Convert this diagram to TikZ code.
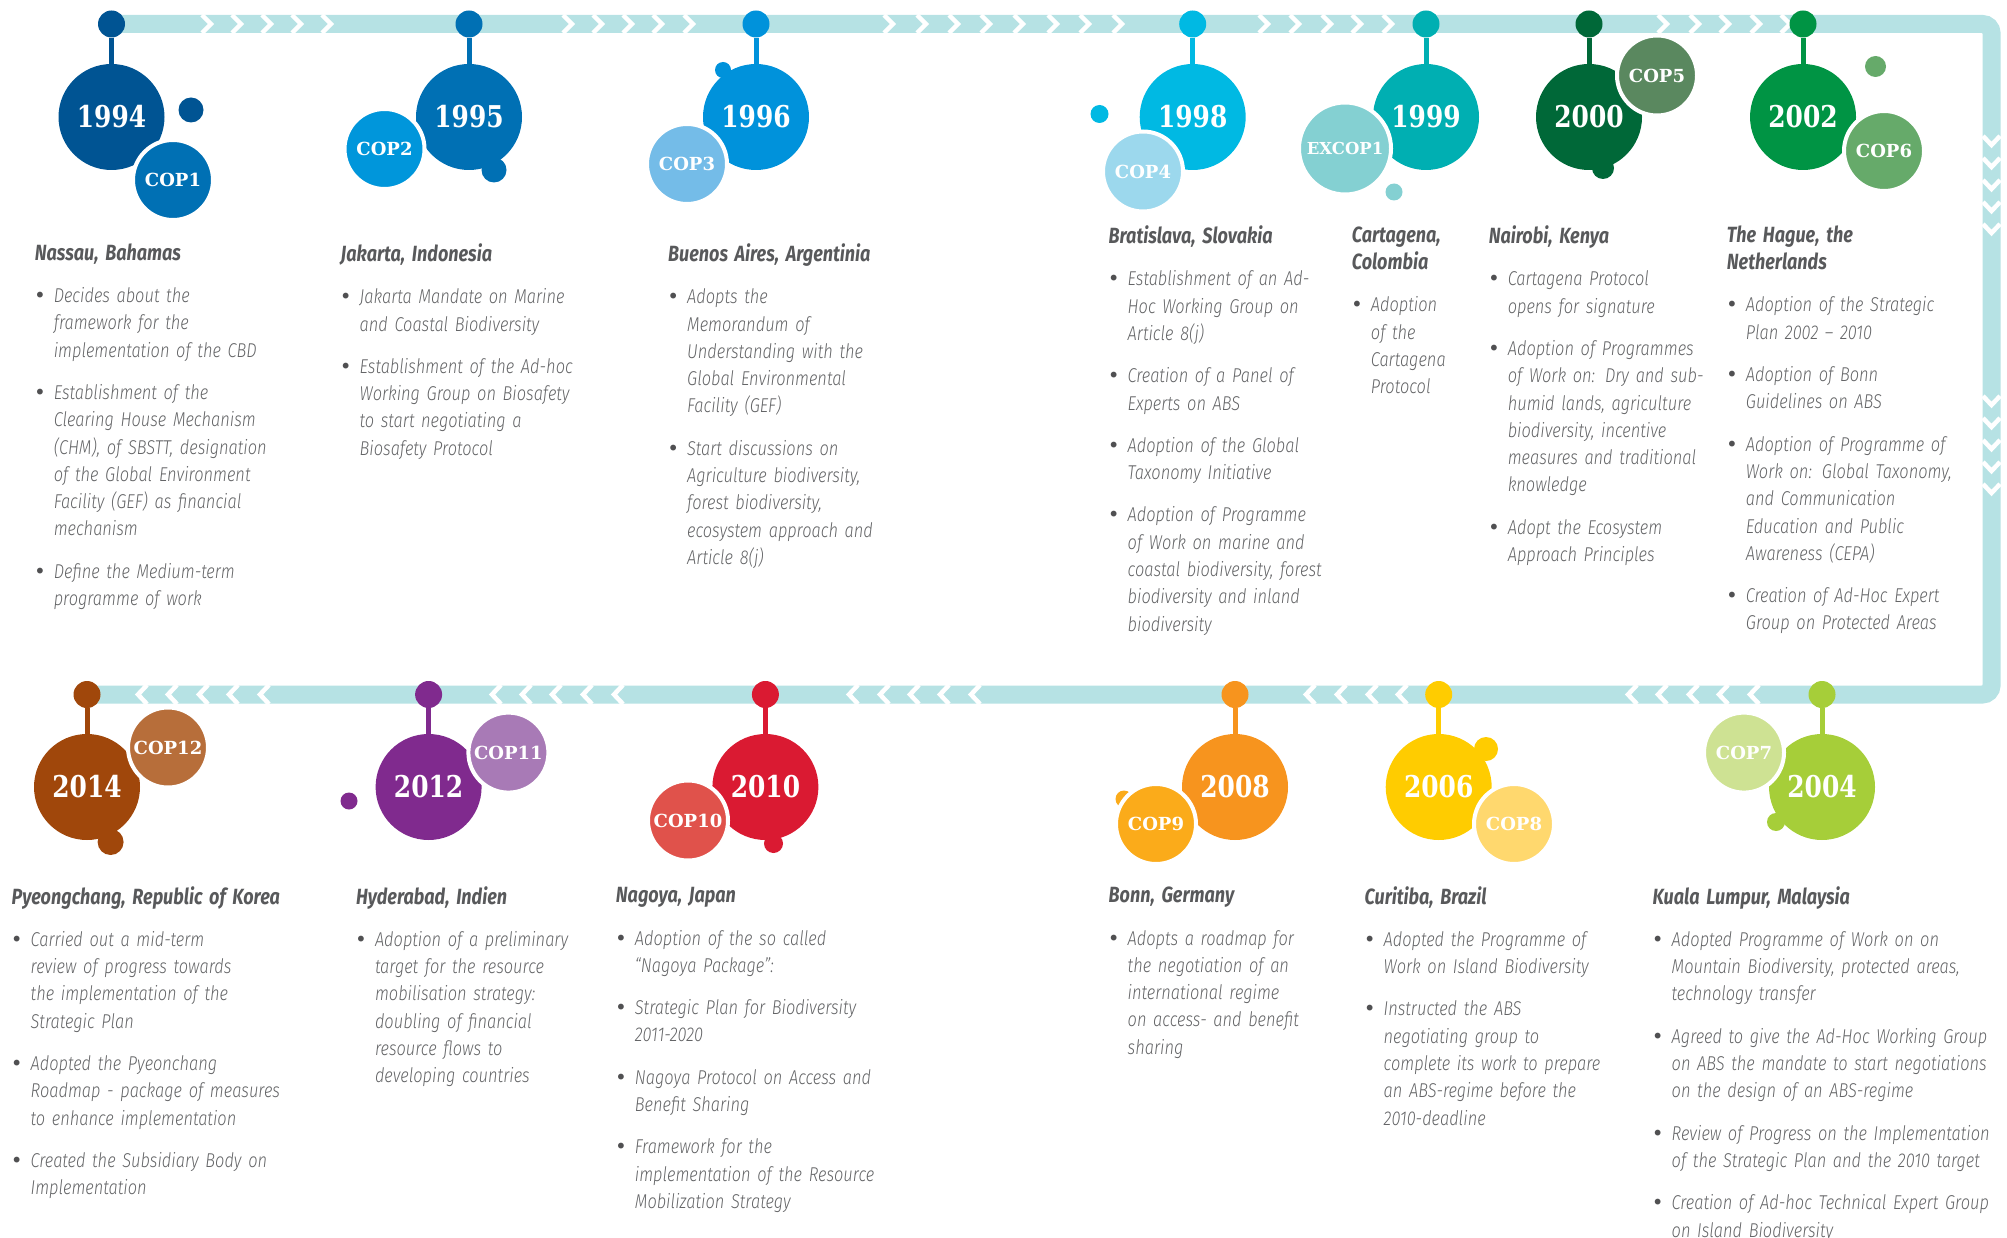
\documentclass[tikz,border=0pt]{standalone}
\usepackage{fontspec}
\newfontfamily\bodyfam{Fira Sans Light}[FakeStretch=0.82]
\newfontfamily\headfam{Fira Sans}[FakeStretch=0.82]
\newfontfamily\yearfam{DejaVu Serif}[FakeStretch=0.83]
\newfontfamily\copfam{DejaVu Serif}
\usetikzlibrary{positioning}

\definecolor{bandc}{RGB}{182,226,228}
\definecolor{headgrey}{RGB}{88,89,91}
\definecolor{bodygrey}{RGB}{100,101,103}
\definecolor{dotgrey}{RGB}{80,80,82}
\definecolor{col94}{RGB}{0,84,147}
\definecolor{colcop1}{RGB}{0,112,180}
\definecolor{col95}{RGB}{0,112,180}
\definecolor{colcop2}{RGB}{0,150,219}
\definecolor{col96}{RGB}{0,146,219}
\definecolor{colcop3}{RGB}{116,188,232}
\definecolor{col98}{RGB}{0,185,227}
\definecolor{colcop4}{RGB}{156,216,237}
\definecolor{col99}{RGB}{0,175,178}
\definecolor{colexcop}{RGB}{132,208,210}
\definecolor{col00}{RGB}{0,104,56}
\definecolor{colcop5}{RGB}{90,136,95}
\definecolor{col02}{RGB}{0,148,68}
\definecolor{colcop6}{RGB}{102,170,106}
\definecolor{col04}{RGB}{166,206,57}
\definecolor{colcop7}{RGB}{206,226,147}
\definecolor{col06}{RGB}{255,204,0}
\definecolor{colcop8}{RGB}{255,216,110}
\definecolor{col08}{RGB}{247,148,30}
\definecolor{colcop9}{RGB}{251,171,26}
\definecolor{col10}{RGB}{218,26,50}
\definecolor{colcop10}{RGB}{224,82,75}
\definecolor{col12}{RGB}{128,42,142}
\definecolor{colcop11}{RGB}{168,122,182}
\definecolor{col14}{RGB}{160,71,11}
\definecolor{colcop12}{RGB}{183,110,58}

\newcommand\evhead[1]{{\headfam\bfseries\itshape\fontsize{22}{27.3}\selectfont\color{headgrey}\rule{0pt}{16.5pt}#1\par}}
\newcommand\evitem[1]{\par\vskip 15pt\leftskip=19pt\noindent\llap{{\copfam\upshape\color{dotgrey}\textbullet}\hskip 8pt}#1\par}

\tikzset{
  trackband/.style={bandc, line width=18pt, rounded corners=9pt},
  chevw/.style={white, line width=4.5pt},
  pindot/.style={circle, fill=#1, minimum size=27pt, inner sep=0pt},
  stemline/.style={#1, line width=5pt},
  yearc/.style={circle, fill=#1, text=white, minimum size=106pt, inner sep=0pt,
    font=\yearfam\bfseries\fontsize{30}{30}\selectfont},
  copc/.style={circle, fill=#1, draw=white, line width=4pt, minimum size=80pt,
    inner sep=0pt, text=white, font=\copfam\bfseries\fontsize{18}{18}\selectfont},
  smalldot/.style={circle, fill=#1, inner sep=0pt},
  evtext/.style={anchor=north west, inner sep=0pt, text width=#1, align=left,
    text=bodygrey, font=\bodyfam\itshape\fontsize{20}{27.3}\selectfont},
  evtext/.default=300pt
}

\begin{document}
\begin{tikzpicture}[x=1pt, y=-1pt]
\useasboundingbox (0,0) rectangle (2007,1238);

\coordinate (tstart) at (111.5,24);
\coordinate (tright) at (1991.5,24);
\coordinate (bright) at (1991.5,694.5);
\coordinate (bend) at (87,694.5);
\draw[trackband] (tstart) -- (tright) -- (bright) -- (bend);
\foreach \t in {211,241,271,301,331,572,602,632,662,693,893,926,958,990,1023,1057,1089,1122,1268,1299,1331,1361,1392,1667,1699,1729,1760,1790}
  \draw[chevw] (\t-9,15) -- (\t,24) -- (\t-9,33);
\foreach \t in {145,167,189,211,233,405,427,449,471,493}
  \draw[chevw] (1983,\t-9) -- (1991.5,\t) -- (2000,\t-9);
\foreach \t in {138,168,199,229,260,492,522,552,583,614,849,880,910,940,971,1306,1337,1368,1398,1628,1658,1689,1719,1750}
  \draw[chevw] (\t+9,685) -- (\t,694.5) -- (\t+9,704);

% small dots
\node[smalldot=col94, minimum size=25pt] (d94) at (191,110) {};
\node[smalldot=col95, minimum size=25pt] (d95) at (494,170) {};
\node[smalldot=col96, minimum size=16pt] (d96) at (723,70) {};
\node[smalldot=col98, minimum size=18pt] (d98) at (1099.5,114) {};
\node[smalldot=colexcop, minimum size=17pt] (d99) at (1394,192) {};
\node[smalldot=col00, minimum size=22pt] (d00) at (1603,168) {};
\node[smalldot=colcop6, minimum size=21pt] (d02) at (1875.5,66.5) {};
\node[smalldot=col04, minimum size=18pt] (d04) at (1776,822) {};
\node[smalldot=col06, minimum size=24pt] (d06) at (1486,749) {};
\node[smalldot=colcop9, minimum size=17pt] (d08) at (1124,799) {};
\node[smalldot=col10, minimum size=19pt] (d10) at (773.5,843.5) {};
\node[smalldot=col12, minimum size=17pt] (d12) at (349,801) {};
\node[smalldot=col14, minimum size=26pt] (d14) at (110.6,842) {};

% pins
\node[pindot=col94] (p94) at (111.5,24) {};
\node[pindot=col95] (p95) at (469,24) {};
\node[pindot=col96] (p96) at (756,24) {};
\node[pindot=col98] (p98) at (1192.7,24) {};
\node[pindot=col99] (p99) at (1426,24) {};
\node[pindot=col00] (p00) at (1589,24) {};
\node[pindot=col02] (p02) at (1803,24) {};
\node[pindot=col04] (p04) at (1822,694.5) {};
\node[pindot=col06] (p06) at (1438.7,694.5) {};
\node[pindot=col08] (p08) at (1235,694.5) {};
\node[pindot=col10] (p10) at (765.4,694.5) {};
\node[pindot=col12] (p12) at (428.6,694.5) {};
\node[pindot=col14] (p14) at (87,694.5) {};

% years
\node[yearc=col94] (y94) at (111.5,117) {1994};
\node[yearc=col95] (y95) at (469,117) {1995};
\node[yearc=col96] (y96) at (756,117) {1996};
\node[yearc=col98] (y98) at (1192.7,117) {1998};
\node[yearc=col99] (y99) at (1426,117) {1999};
\node[yearc=col00] (y00) at (1589,117) {2000};
\node[yearc=col02] (y02) at (1803,117) {2002};
\node[yearc=col04] (y04) at (1822,787) {2004};
\node[yearc=col06] (y06) at (1438.7,787) {2006};
\node[yearc=col08] (y08) at (1235,787) {2008};
\node[yearc=col10] (y10) at (765.4,787) {2010};
\node[yearc=col12] (y12) at (428.6,787) {2012};
\node[yearc=col14] (y14) at (87,787) {2014};

\foreach \n/\c in {94/col94,95/col95,96/col96,98/col98,99/col99,00/col00,02/col02,04/col04,06/col06,08/col08,10/col10,12/col12,14/col14}
  \draw[stemline=\c] (p\n) -- (y\n);

% cops
\node[copc=colcop1] (cop1) at (173,180) {COP1};
\node[copc=colcop2] (cop2) at (384.5,149) {COP2};
\node[copc=colcop3] (cop3) at (687,164) {COP3};
\node[copc=colcop4] (cop4) at (1143,171.5) {COP4};
\node[copc=colexcop, minimum size=92pt, font=\copfam\bfseries\fontsize{16.5}{16.5}\selectfont] (excop1) at (1345,148.5) {EXCOP1};
\node[copc=colcop5] (cop5) at (1657,75.5) {COP5};
\node[copc=colcop6] (cop6) at (1884,151) {COP6};
\node[copc=colcop7] (cop7) at (1744,752.6) {COP7};
\node[copc=colcop8] (cop8) at (1514,824) {COP8};
\node[copc=colcop9] (cop9) at (1156,824) {COP9};
\node[copc=colcop10] (cop10) at (688,820.5) {COP10};
\node[copc=colcop11] (cop11) at (508.4,752.6) {COP11};
\node[copc=colcop12] (cop12) at (168,747.5) {COP12};

% texts
\node[evtext] (nassau) at (34.6,243.4) {\evhead{Nassau, Bahamas}
  \evitem{Decides about the\\framework for the\\implementation of the CBD}
  \evitem{Establishment of the\\Clearing House Mechanism\\(CHM), of SBSTT, designation\\of the Global Environment\\Facility (GEF) as financial\\mechanism}
  \evitem{Define the Medium-term\\programme of work}};
\node[evtext] (jakarta) at (340.5,243.4) {\evhead{Jakarta, Indonesia}
  \evitem{Jakarta Mandate on Marine\\and Coastal Biodiversity}
  \evitem{Establishment of the Ad-hoc\\Working Group on Biosafety\\to start negotiating a\\Biosafety Protocol}};
\node[evtext] (buenos) at (668,243.4) {\evhead{Buenos Aires, Argentinia}
  \evitem{Adopts the\\Memorandum of\\Understanding with the\\Global Environmental\\Facility (GEF)}
  \evitem{Start discussions on\\Agriculture biodiversity,\\forest biodiversity,\\ecosystem approach and\\Article 8(j)}};
\node[evtext=235pt] (bratislava) at (1108.5,225.5) {\evhead{Bratislava, Slovakia}
  \evitem{Establishment of an Ad-\\Hoc Working Group on\\Article 8(j)}
  \evitem{Creation of a Panel of\\Experts on ABS}
  \evitem{Adoption of the Global\\Taxonomy Initiative}
  \evitem{Adoption of Programme\\of Work on marine and\\coastal biodiversity, forest\\biodiversity and inland\\biodiversity}};
\node[evtext=130pt] (cartagena) at (1351.7,225.5) {\evhead{Cartagena,\\Colombia}
  \evitem{Adoption\\of the\\Cartagena\\Protocol}};
\node[evtext=230pt] (nairobi) at (1488.6,225.5) {\evhead{Nairobi, Kenya}
  \evitem{Cartagena Protocol\\opens for signature}
  \evitem{Adoption of Programmes\\of Work on: Dry and sub-\\humid lands, agriculture\\biodiversity, incentive\\measures and traditional\\knowledge}
  \evitem{Adopt the Ecosystem\\Approach Principles}};
\node[evtext=250pt] (hague) at (1726.7,225.5) {\evhead{The Hague, the\\Netherlands}
  \evitem{Adoption of the Strategic\\Plan 2002 – 2010}
  \evitem{Adoption of Bonn\\Guidelines on ABS}
  \evitem{Adoption of Programme of\\Work on: Global Taxonomy,\\and Communication\\Education and Public\\Awareness (CEPA)}
  \evitem{Creation of Ad-Hoc Expert\\Group on Protected Areas}};

\node[evtext] (pyeongchang) at (11.5,886) {\evhead{Pyeongchang, Republic of Korea}
  \evitem{Carried out a mid-term\\review of progress towards\\the implementation of the\\Strategic Plan}
  \evitem{Adopted the Pyeonchang\\Roadmap - package of measures\\to enhance implementation}
  \evitem{Created the Subsidiary Body on\\Implementation}};
\node[evtext=250pt] (hyderabad) at (355.8,886) {\evhead{Hyderabad, Indien}
  \evitem{Adoption of a preliminary\\target for the resource\\mobilisation strategy:\\doubling of financial\\resource flows to\\developing countries}};
\node[evtext] (nagoya) at (615.7,886) {\evhead{Nagoya, Japan}
  \evitem{Adoption of the so called\\“Nagoya Package”:}
  \evitem{Strategic Plan for Biodiversity\\2011-2020}
  \evitem{Nagoya Protocol on Access and\\Benefit Sharing}
  \evitem{Framework for the\\implementation of the Resource\\Mobilization Strategy}};
\node[evtext=240pt] (bonn) at (1108.5,886) {\evhead{Bonn, Germany}
  \evitem{Adopts a roadmap for\\the negotiation of an\\international regime\\on access- and benefit\\sharing}};
\node[evtext=270pt] (curitiba) at (1364.5,886) {\evhead{Curitiba, Brazil}
  \evitem{Adopted the Programme of\\Work on Island Biodiversity}
  \evitem{Instructed the ABS\\negotiating group to\\complete its work to prepare\\an ABS-regime before the\\2010-deadline}};
\node[evtext=350pt] (kuala) at (1652.5,886) {\evhead{Kuala Lumpur, Malaysia}
  \evitem{Adopted Programme of Work on on\\Mountain Biodiversity, protected areas,\\technology transfer}
  \evitem{Agreed to give the Ad-Hoc Working Group\\on ABS the mandate to start negotiations\\on the design of an ABS-regime}
  \evitem{Review of Progress on the Implementation\\of the Strategic Plan and the 2010 target}
  \evitem{Creation of Ad-hoc Technical Expert Group\\on Island Biodiversity}};
\end{tikzpicture}
\end{document}
